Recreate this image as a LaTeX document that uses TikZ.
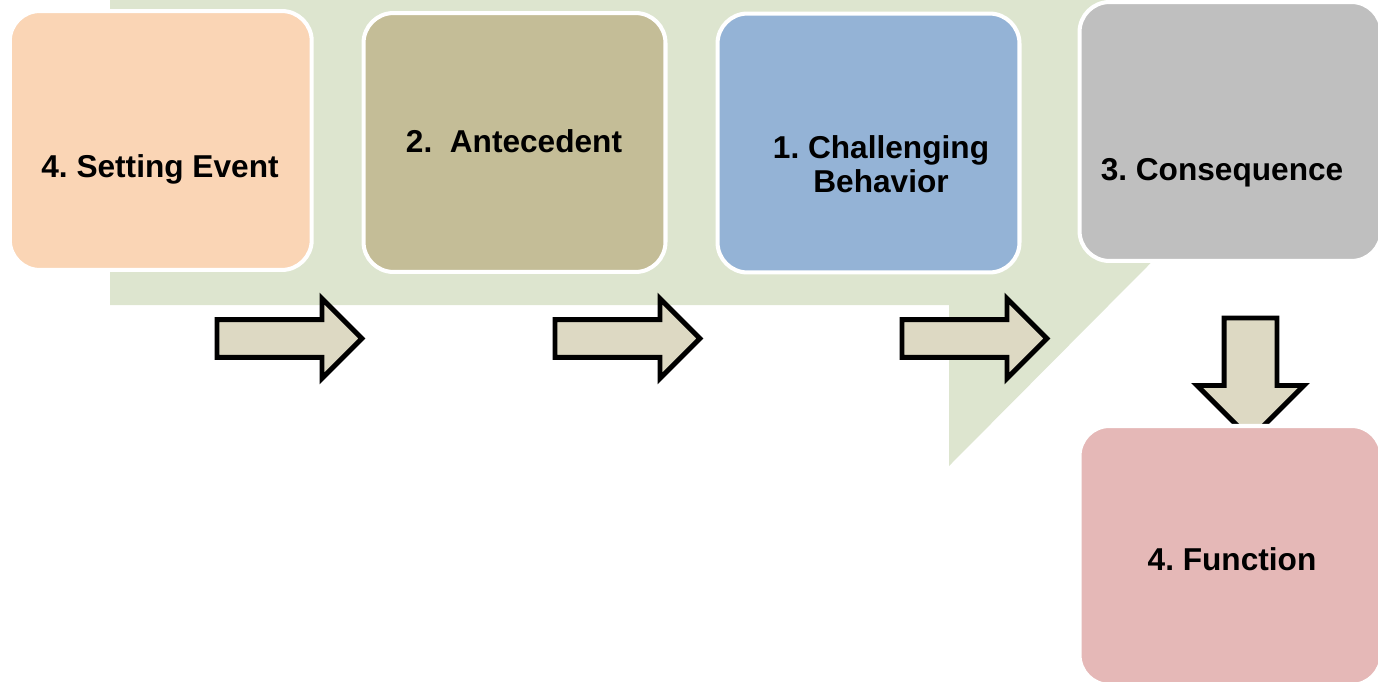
\documentclass[tikz,border=0pt]{standalone}
\usepackage{fontspec}
\setmainfont{Liberation Sans}
\usetikzlibrary{positioning, shapes.arrows}
\definecolor{bandGreen}{HTML}{DDE5CF}
\definecolor{setting}{HTML}{FAD5B5}
\definecolor{antecedent}{HTML}{C4BD97}
\definecolor{behavior}{HTML}{94B3D6}
\definecolor{consequence}{HTML}{BFBFBF}
\definecolor{function}{HTML}{E5B8B7}
\definecolor{arrowFill}{HTML}{DDD9C3}
\frenchspacing

\begin{document}
\begin{tikzpicture}[x=0.02cm, y=-0.02cm,
    box/.style={rounded corners=0.6cm, draw=white, line width=2.3pt,
      minimum width=6.04cm, minimum height=5.18cm, inner sep=0pt},
    boxtext/.style={font=\fontsize{18}{19.5}\selectfont\bfseries,
      align=center, inner sep=0pt},
    flow/.style={single arrow, single arrow tip angle=90, draw=black,
      line width=2.8pt, fill=arrowFill, anchor=tail}]
  \useasboundingbox (0,0) rectangle (1378,682);
  \clip (0,0) rectangle (1378,682);

  \fill[bandGreen] (110,0) -- (1109,0) -- (1261,152) -- (949,466)
    -- (949,305) -- (110,305) -- cycle;

  \node[flow, inner sep=0.33cm, single arrow head extend=0.42cm,
        minimum height=2.9cm] (step1) at (214.5,338.5) {};
  \node[flow, inner sep=0.33cm, single arrow head extend=0.42cm,
        minimum height=2.9cm] (step2) at (552.5,338.5) {};
  \node[flow, inner sep=0.33cm, single arrow head extend=0.42cm,
        minimum height=2.9cm] (step3) at (899.5,338.5) {};
  \node[flow, inner sep=0.48cm, single arrow head extend=0.54cm,
        minimum height=2.42cm, rotate=-90] (step4) at (1250.5,315.5) {};

  \node[box, fill=setting] (setting) at (160.75,140.5) {};
  \node[box, fill=antecedent] (antecedent) at (514.5,142.5) {};
  \node[box, fill=behavior] (behavior) at (868.5,143) {};
  \node[box, fill=consequence] (consequence) at (1230.5,131.5) {};
  \node[box, fill=function, below=3.22cm of consequence] (function) {};

  \node[boxtext, anchor=base] (settingText) at (160,177) {4. Setting Event};
  \node[boxtext, anchor=base] (antecedentText) at (514,153) {2.\ \ Antecedent};
  \node[boxtext] (behaviorText) at (881,164) {1. Challenging\\Behavior};
  \node[boxtext, anchor=base] (consequenceText) at (1222,181) {3. Consequence};
  \node[boxtext, anchor=base] (functionText) at (1232,570) {4. Function};
\end{tikzpicture}
\end{document}
